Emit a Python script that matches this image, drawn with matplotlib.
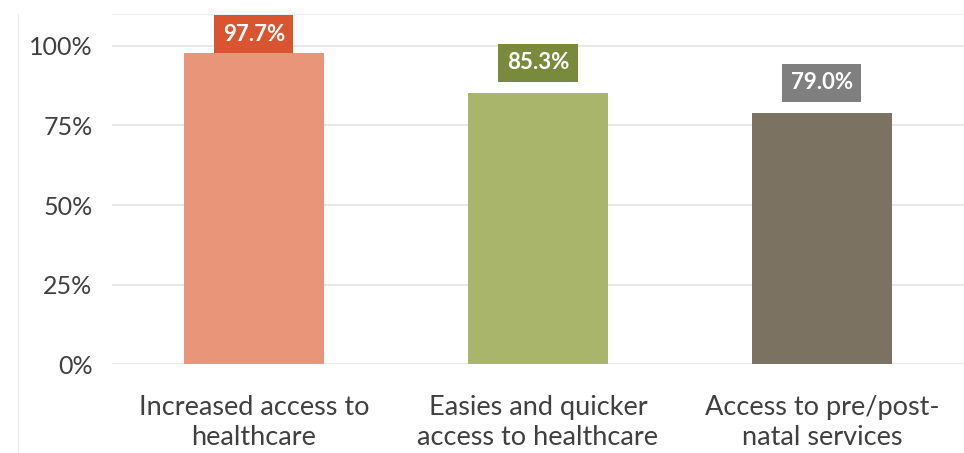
import matplotlib
matplotlib.use("Agg")
import matplotlib.pyplot as plt
from matplotlib.lines import Line2D
from matplotlib.ticker import FuncFormatter

categories = ["Increased access to\nhealthcare",
              "Easies and quicker\naccess to healthcare",
              "Access to pre/post-\nnatal services"]
values = [0.977, 0.853, 0.790]
bar_colors = ["#E8957A", "#A9B56A", "#7B7262"]
label_colors = ["#D9552F", "#7A8A3C", "#7F7F7F"]
yticks = [0, 0.25, 0.5, 0.75, 1.0]

plt.rcParams["font.family"] = ["Lato", "DejaVu Sans"]

fig = plt.figure(figsize=(9.64, 4.53), dpi=100)
ax = fig.add_axes([0.116, 0.196, 0.884, 0.773])

x = range(len(categories))
ax.bar(x, values, width=0.495, color=bar_colors, zorder=3)
ax.set_xlim(-0.5, len(categories) - 0.5)
ax.set_ylim(0, 1.1)
ax.set_yticks(yticks)
ax.yaxis.set_major_formatter(FuncFormatter(lambda v, _: f"{v*100:.0f}%"))
ax.set_xticks(list(x))
ax.set_xticklabels(categories, fontsize=19.5, color="#404040", linespacing=1.28)
ax.tick_params(axis="y", labelsize=18, colors="#404040", length=0, pad=14)
ax.tick_params(axis="x", length=0, pad=22)
ax.grid(axis="y", color="#E4E4E4", linewidth=1.2, zorder=0)
for s in ["left", "right", "bottom"]:
    ax.spines[s].set_visible(False)
ax.spines["top"].set_color("#F0F0F0")

# value labels in colored boxes above the bars, kept inside the plot area
for i, (v, c) in enumerate(zip(values, label_colors)):
    y = min(v + 0.094, 1.037)
    ax.text(i, y, f"{v*100:.1f}%", ha="center", va="center", color="white",
            fontsize=16, fontweight="bold", zorder=5,
            bbox=dict(boxstyle="square,pad=0.38", fc=c, ec="none"))

# faint outer chart border at the left
fig.add_artist(Line2D([0.019, 0.019], [0.0, 0.97], color="#EDEDED", linewidth=1))

fig.savefig("out.png", dpi=100)
plt.close(fig)
